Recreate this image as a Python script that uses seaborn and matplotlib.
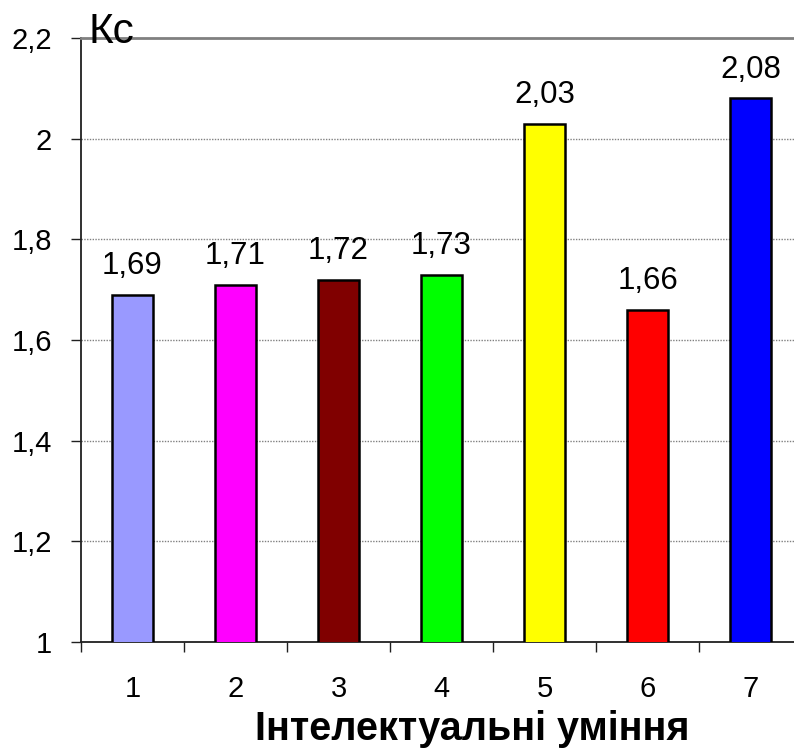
import matplotlib
matplotlib.use("Agg")
import matplotlib.pyplot as plt
import seaborn as sns
import pandas as pd

categories = ["1", "2", "3", "4", "5", "6", "7"]
values = [1.69, 1.71, 1.72, 1.73, 2.03, 1.66, 2.08]
colors = ["#9999FF", "#FF00FF", "#800000", "#00FF00", "#FFFF00", "#FF0000", "#0000FF"]
yticks = [1.0, 1.2, 1.4, 1.6, 1.8, 2.0, 2.2]
ytick_labels = ["1", "1,2", "1,4", "1,6", "1,8", "2", "2,2"]
xlabel = "Інтелектуальні уміння"
ylabel = "Кс"

sns.set_theme(style="white")
plt.rcParams["font.family"] = ["Liberation Sans", "DejaVu Sans"]
plt.rcParams["text.color"] = "black"

df = pd.DataFrame({"cat": categories, "val": values})

fig = plt.figure(figsize=(7.94, 7.49), dpi=100)
ax = fig.add_axes([81/794, 1-642/749, (802-81)/794, (642-38)/749])

sns.barplot(data=df, x="cat", y="val", hue="cat", palette=colors, legend=False,
            saturation=1, width=0.4, edgecolor="black", linewidth=1.8, ax=ax, zorder=3)

ax.set_ylim(1.0, 2.2)
ax.set_xlim(-0.5, len(categories) - 0.5)
ax.set_yticks(yticks)
ax.set_yticklabels(ytick_labels)

# gridlines
for y in yticks[1:-1]:
    ax.axhline(y, color="#808080", linestyle=(0, (1, 1)), linewidth=1.0, zorder=1)

ax.spines["right"].set_visible(False)
ax.spines["top"].set_color("#808080")
ax.spines["top"].set_linewidth(2.0)
ax.spines["left"].set_color("#202020")
ax.spines["left"].set_linewidth(1.3)
ax.spines["bottom"].set_color("#202020")
ax.spines["bottom"].set_linewidth(1.3)

ax.set_xticks(range(len(categories)))
ax.set_xticklabels(categories)
ax.set_xticks([i - 0.5 for i in range(len(categories) + 1)], minor=True)
ax.tick_params(axis="x", which="major", length=0, pad=24, labelsize=21, labelcolor="black")
ax.tick_params(axis="x", which="minor", length=7, width=1.0, color="#202020", direction="out", bottom=True)
ax.tick_params(axis="y", which="major", length=7, width=1.0, color="#202020", direction="out",
               pad=14, labelsize=21, left=True, labelcolor="black")

ax.set_xlabel(xlabel, fontsize=28.5, fontweight="bold", color="black")
ax.xaxis.label.set_verticalalignment("baseline")
ax.xaxis.set_label_coords((472 - 81) / 721, -(740 - 642) / 604)
ax.set_ylabel("")

for i, v in enumerate(values):
    ax.annotate(f"{v:.2f}".replace(".", ","), (i, v), xytext=(0, 10),
                textcoords="offset points", ha="center", va="bottom", fontsize=22.5,
                color="black", zorder=4)

fig.text(88/794, 1-43/749, ylabel, fontsize=30.5, ha="left", va="baseline", color="black")

fig.savefig("out.png", dpi=100)
